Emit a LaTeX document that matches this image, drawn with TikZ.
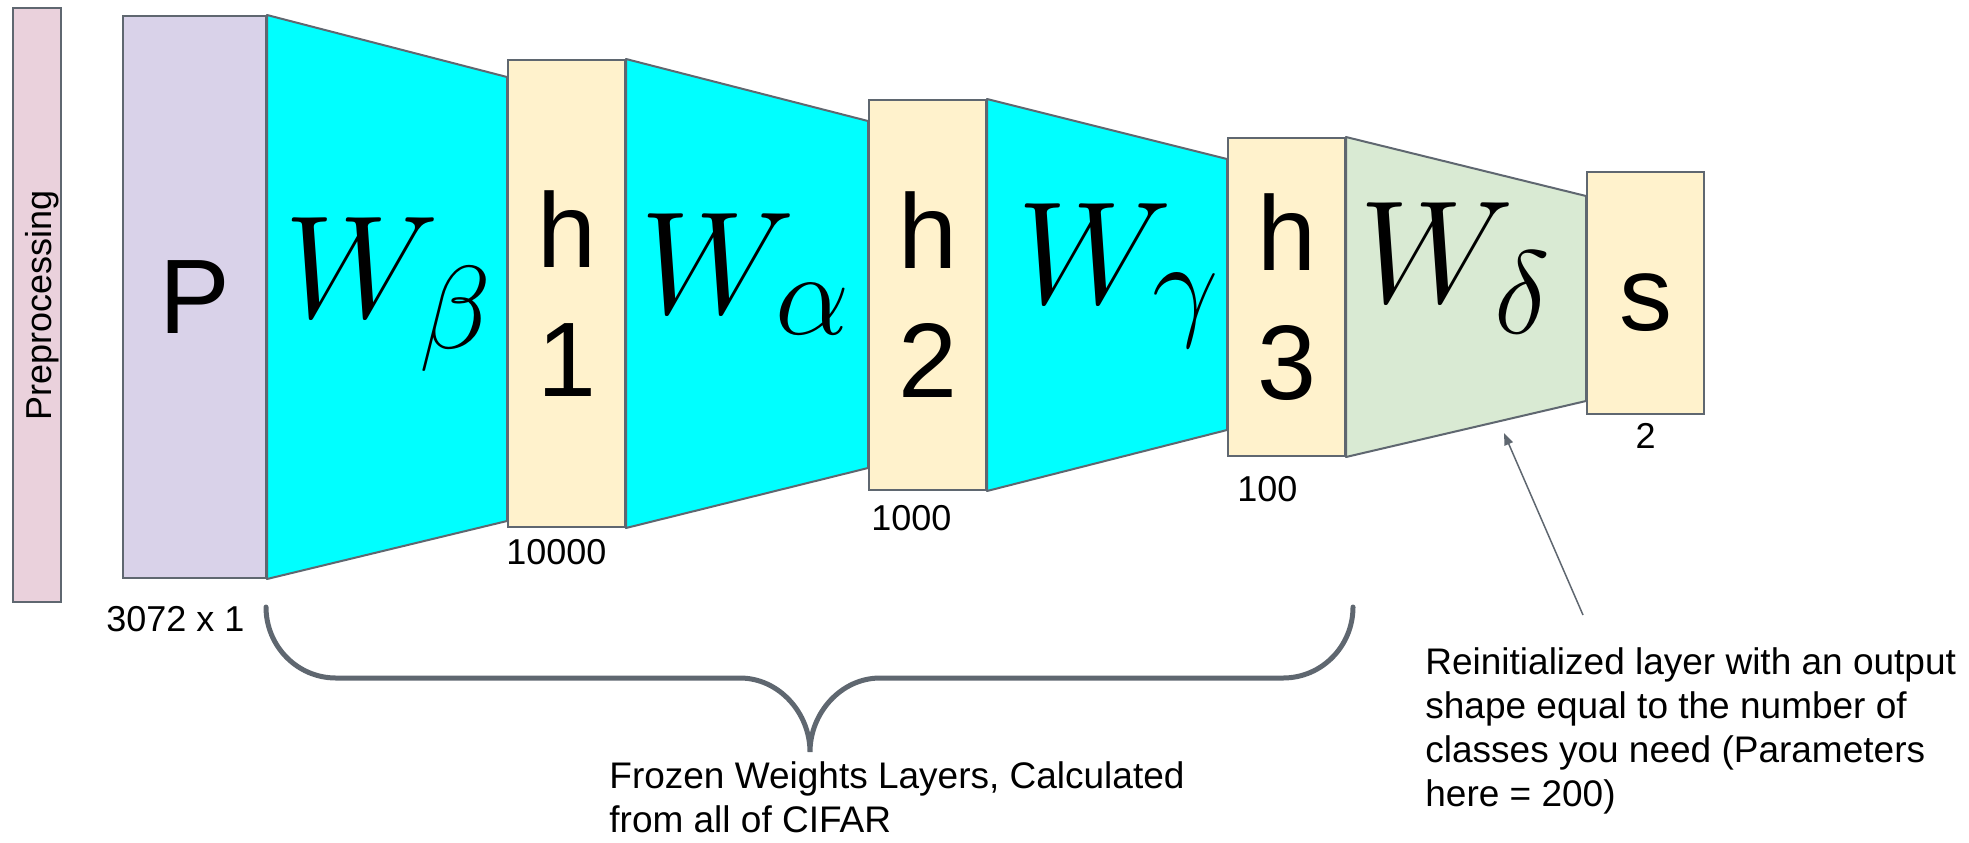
\RequirePackage{fix-cm}
\documentclass[tikz,border=0pt]{standalone}
\usepackage{fontspec}
\setmainfont{Liberation Sans}
\usepackage{xcolor}
\usetikzlibrary{arrows.meta, positioning, calc, backgrounds}

\definecolor{edgegray}{HTML}{5F6770}
\definecolor{prepfill}{HTML}{EAD1DC}
\definecolor{inputfill}{HTML}{D9D2E9}
\definecolor{hiddenfill}{HTML}{FFF2CC}
\definecolor{frozenfill}{HTML}{00FFFF}
\definecolor{newfill}{HTML}{D9EAD3}
\DeclareMathSizes{73}{73}{59}{45}

\begin{document}
\begin{tikzpicture}[
    x=0.5pt, y=-0.5pt,
    layer/.style={rectangle, draw=edgegray, line width=1pt, inner sep=0pt, minimum width=58.5pt, align=center, font=\fontsize{53}{64.5}\selectfont},
    weights/.style={draw=edgegray, line width=1pt, line join=round},
    wlabel/.style={anchor=base west, inner sep=0pt, font=\fontsize{73}{80}\selectfont},
    dimlabel/.style={anchor=base west, inner sep=0pt, font=\fontsize{18}{22}\selectfont},
    note/.style={anchor=north west, inner sep=0pt, align=left, font=\fontsize{18.5}{22}\selectfont},
    brace/.style={draw=edgegray, line width=2.5pt, line cap=round},
    pointer/.style={-{Triangle[length=6pt, width=4.5pt]}, draw=edgegray, line width=0.75pt}
]
\useasboundingbox (0,0) rectangle (1969,842);

% preprocessing strip
\node[rectangle, draw=edgegray, fill=prepfill, line width=1pt, minimum width=24pt, minimum height=297pt, inner sep=0pt] (prep) at (37,305) {};
\node[rotate=90, inner sep=0pt, font=\fontsize{18}{22}\selectfont] (preptext) at ($(prep.center)+(5,0)$) {Preprocessing};

% layers
\node[layer, fill=inputfill, minimum width=71.5pt, minimum height=281pt] (P) at (194.5,297) {P};
\node[layer, fill=hiddenfill, minimum height=233.5pt] (h1) at (566.5,293.5) {h\\1};
\node[layer, fill=hiddenfill, minimum height=195pt] (h2) at (927.5,295) {h\\2};
\node[layer, fill=hiddenfill, minimum height=159pt] (h3) at (1286.5,297) {h\\3};
\node[layer, fill=hiddenfill, minimum height=121pt] (s) at (1645.5,293) {\vphantom{h}s};

% weight blocks
\begin{scope}[on background layer]
\filldraw[weights, fill=frozenfill] (P.north east) -- ($(h1.north west)+(0,18)$) -- ($(h1.south west)+(0,-7)$) -- (P.south east) -- cycle;
\filldraw[weights, fill=frozenfill] (h1.north east) -- ($(h2.north west)+(0,22)$) -- ($(h2.south west)+(0,-23)$) -- (h1.south east) -- cycle;
\filldraw[weights, fill=frozenfill] (h2.north east) -- ($(h3.north west)+(0,22)$) -- ($(h3.south west)+(0,-27)$) -- (h2.south east) -- cycle;
\filldraw[weights, fill=newfill] (h3.north east) -- ($(s.north west)+(0,25)$) -- ($(s.south west)+(0,-14)$) -- (h3.south east) -- cycle;
\end{scope}

\node[wlabel] (wbeta) at (284,317) {$W_{\beta}$};
\node[wlabel] (walpha) at (640,313) {$W_{\alpha}$};
\node[wlabel] (wgamma) at (1017,303) {$W_{\gamma}$};
\node[wlabel] (wdelta) at (1359,302) {$W_{\delta}$};

% sizes
\node[dimlabel] (dimP) at ($(P.south west)+(-16,52)$) {3072 x 1};
\node[dimlabel] (dimh1) at ($(h1.south west)+(-1,36)$) {10000};
\node[dimlabel] (dimh2) at ($(h2.south west)+(3,39)$) {1000};
\node[dimlabel] (dimh3) at ($(h3.south west)+(10,44)$) {100};
\node[dimlabel, anchor=base] (dims) at ($(s.south)+(0,33)$) {2};

% brace under the frozen part
\coordinate (braceL) at (266,607);
\coordinate (braceR) at (1353,607);
\coordinate (braceTip) at (810,752);
\draw[brace] (braceL) .. controls (266,646) and (297,678) .. (336,678) -- (740,678)
    .. controls (779,678) and (810,713) .. (braceTip)
    .. controls (810,713) and (841,678) .. (880,678) -- (1283,678)
    .. controls (1322,678) and (1353,646) .. (braceR);
\node[note] (frozen) at (609,761) {Frozen Weights Layers, Calculated\\from all of CIFAR};

% note on the new layer
\node[note] (reinit) at (1425,647) {Reinitialized layer with an output\\shape equal to the number of\\classes you need (Parameters\\here = 200)};
\coordinate (tail) at (1583,615);
\coordinate (head) at (1504,433);
\draw[pointer] (tail) -- (head);

\end{tikzpicture}
\end{document}
